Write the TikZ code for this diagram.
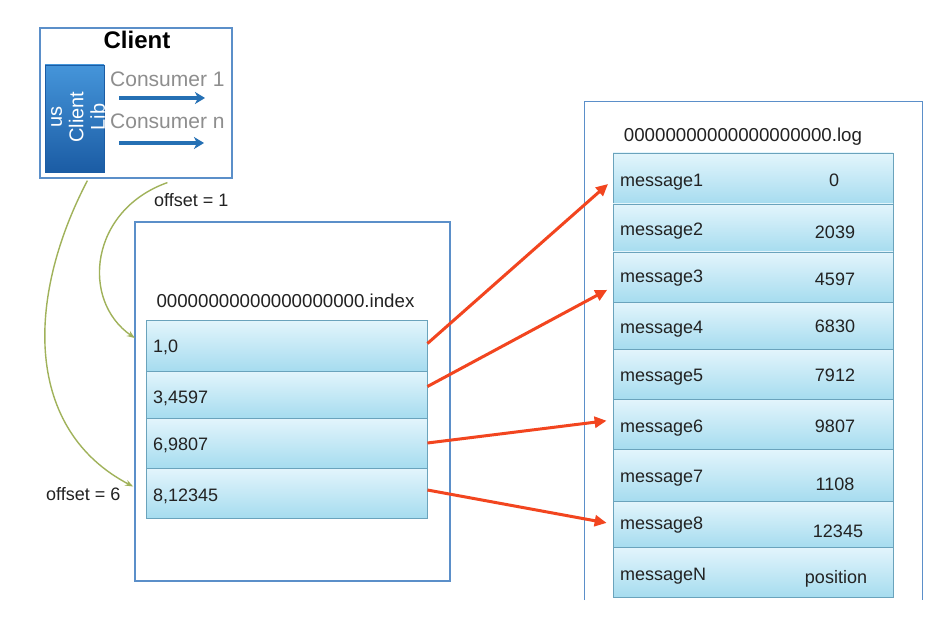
\documentclass[tikz,border=0pt]{standalone}
\usepackage{fontspec}
\setmainfont{Liberation Sans}
\usetikzlibrary{arrows.meta,calc}
\definecolor{boxblue}{HTML}{5B8FC9}
\definecolor{rowtop}{HTML}{E3F5FC}
\definecolor{rowbot}{HTML}{A6DCEF}
\definecolor{rowedge}{HTML}{6AA3BC}
\definecolor{libtop}{HTML}{4595DA}
\definecolor{libbot}{HTML}{1B5CA4}
\definecolor{arrblue}{HTML}{2570B4}
\definecolor{redarr}{HTML}{F2451F}
\definecolor{olivegreen}{HTML}{A0B25A}
\definecolor{graytext}{HTML}{8E8E8E}
\definecolor{textdark}{HTML}{222222}
\tikzset{
  outerbox/.style={draw=boxblue, line width=1.2pt, fill=white, inner sep=0pt},
  rowbox/.style={draw=rowedge, line width=0.9pt, top color=rowtop, bottom color=rowbot, inner sep=0pt},
  txt/.style={font=\fontsize{18}{21}\selectfont, text=textdark, inner sep=0pt},
  redline/.style={draw=redarr, line width=3pt, -{Triangle[length=12pt,width=11pt]}, shorten >=6pt},
  greenline/.style={draw=olivegreen, line width=1.4pt, -{Stealth[length=8pt,width=6pt]}},
  bluearrow/.style={draw=arrblue, line width=3.4pt, -{Stealth[length=10pt,width=12pt,inset=3pt]}},
}
\begin{document}
\begin{tikzpicture}[x=1pt,y=-1pt]
\useasboundingbox (0,0) rectangle (942,644);
\fill[white] (0,0) rectangle (942,644);

% Client box
\node[outerbox, minimum width=192pt, minimum height=150pt] (cl) at (136,103) {};
\node[txt, font=\fontsize{24}{28}\selectfont\bfseries, text=black, anchor=base] (cltitle) at (137,49) {Client};
\node[draw=libbot, line width=0.6pt, top color=libtop, bottom color=libbot, minimum width=59pt, minimum height=107pt, inner sep=0pt] (lib) at (74.5,118.5) {};
\node[txt, text=white, font=\fontsize{20}{21.5}\selectfont, rotate=90, align=center] (libtxt) at (78,117) {us\\Client\\Lib};
\node[txt, text=graytext, font=\fontsize{21}{24}\selectfont, anchor=base west] (c1) at (110,87) {Consumer 1};
\node[txt, text=graytext, font=\fontsize{21}{24}\selectfont, anchor=base west] (cn) at (110,129) {Consumer n};
\coordinate (a1s) at (119,98);
\coordinate (a1e) at (205,98);
\coordinate (ans) at (119,143);
\coordinate (ane) at (204,143);
\draw[bluearrow] (a1s) -- (a1e);
\draw[bluearrow] (ans) -- (ane);

% Index file box
\node[outerbox, minimum width=315pt, minimum height=359pt] (idx) at (292.5,401.5) {};
\node[txt, font=\fontsize{18.7}{21}\selectfont, anchor=base] (idxlbl) at (285.5,307) {00000000000000000000.index};
\node[rowbox, minimum width=281pt, minimum height=51pt] (i1) at (286.5,345.5) {};
\node[rowbox, minimum width=281pt, minimum height=47pt] (i2) at (286.5,394.5) {};
\node[rowbox, minimum width=281pt, minimum height=50pt] (i3) at (286.5,443) {};
\node[rowbox, minimum width=281pt, minimum height=50pt] (i4) at (286.5,493) {};
\node[txt, anchor=base west] (t1) at (153,352) {1,0};
\node[txt, anchor=base west] (t2) at (153,403) {3,4597};
\node[txt, anchor=base west] (t3) at (153,450) {6,9807};
\node[txt, anchor=base west] (t4) at (153,501) {8,12345};

% Log file box (bottom cut off)
\node[fill=white, minimum width=337pt, minimum height=498pt, inner sep=0pt] (log) at (753.5,351) {};
\draw[boxblue, line width=1.2pt] (log.south west) -- (log.north west) -- (log.north east) -- (log.south east);
\node[txt, font=\fontsize{18.7}{21}\selectfont, anchor=base] (loglbl) at (743,142) {00000000000000000000.log};
\node[rowbox, minimum width=280pt, minimum height=51pt] (m1) at (753,178.5) {};
\node[rowbox, minimum width=280pt, minimum height=48pt] (m2) at (753,228) {};
\node[rowbox, minimum width=280pt, minimum height=50pt] (m3) at (753,277) {};
\node[rowbox, minimum width=280pt, minimum height=47pt] (m4) at (753,325.5) {};
\node[rowbox, minimum width=280pt, minimum height=50pt] (m5) at (753,374) {};
\node[rowbox, minimum width=280pt, minimum height=50pt] (m6) at (753,424) {};
\node[rowbox, minimum width=280pt, minimum height=52pt] (m7) at (753,475) {};
\node[rowbox, minimum width=280pt, minimum height=46pt] (m8) at (753,524) {};
\node[rowbox, minimum width=280pt, minimum height=50pt] (mN) at (753,572) {};

\node[txt, anchor=base west] (n1) at (620,187) {message1};
\node[txt, anchor=base west] (n2) at (620,236) {message2};
\node[txt, anchor=base west] (n3) at (620,283) {message3};
\node[txt, anchor=base west] (n4) at (620,333) {message4};
\node[txt, anchor=base west] (n5) at (620,381) {message5};
\node[txt, anchor=base west] (n6) at (620,432) {message6};
\node[txt, anchor=base west] (n7) at (620,482) {message7};
\node[txt, anchor=base west] (n8) at (620,529) {message8};
\node[txt, anchor=base west] (nN) at (620,580) {messageN};

\node[txt, anchor=base] (v1) at (834,187) {0};
\node[txt, anchor=base] (v2) at (835,239) {2039};
\node[txt, anchor=base] (v3) at (835,286) {4597};
\node[txt, anchor=base] (v4) at (835,332) {6830};
\node[txt, anchor=base] (v5) at (835,381) {7912};
\node[txt, anchor=base] (v6) at (835,432) {9807};
\node[txt, anchor=base] (v7) at (835,490) {1108};
\node[txt, anchor=base] (v8) at (838,537) {12345};
\node[txt, anchor=base] (vN) at (836,583) {position};

% Red index -> log arrows
\draw[redline] ($(i1.east)+(0,-2)$) -- ($(m1.west)+(0,1.5)$);
\draw[redline] ($(i2.east)+(0,-8)$) -- ($(m3.west)+(0,10)$);
\draw[redline] (i3.east) -- ($(m6.west)+(0,-4)$);
\draw[redline] ($(i4.east)+(0,-3)$) -- (m8.west);

% Green offset arrows
\node[txt, anchor=base west] (off1) at (154,207) {offset = 1};
\node[txt, anchor=base west] (off6) at (46,500) {offset = 6};
\draw[greenline, shorten >=14pt] ($(cl.south west)+(48,2)$) .. controls (25,300) and (25,430) .. (i4.west);
\draw[greenline, shorten >=13pt] ($(cl.south west)+(128,4)$) .. controls (90,210) and (80,300) .. (i1.west);
\end{tikzpicture}
\end{document}
